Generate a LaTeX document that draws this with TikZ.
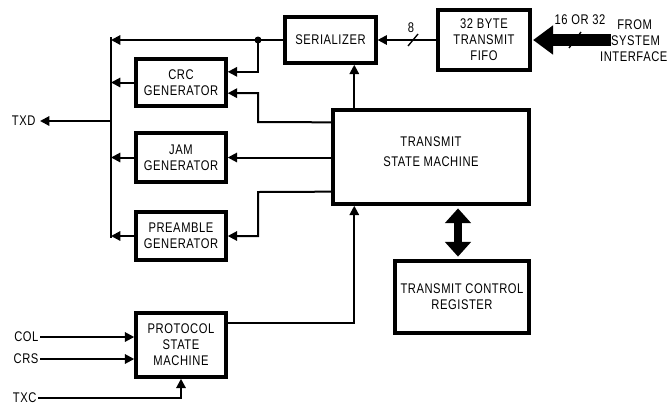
\documentclass[tikz,border=0pt]{standalone}
\usepackage{fontspec}
\newfontfamily\dsfont{Liberation Sans}[FakeStretch=0.8, LetterSpace=4]
\usetikzlibrary{arrows.meta}

\begin{document}
\begin{tikzpicture}[
    x=0.75pt, y=-0.75pt,
    blk/.style={draw, line width=2.6pt, align=center, inner sep=0pt, font={\dsfont\fontsize{10.5}{12}\selectfont}},
    lbl/.style={inner sep=1pt, align=center, font={\dsfont\fontsize{10.5}{12}\selectfont}},
    wire/.style={line width=1.5pt},
    sig/.style={wire, -{Triangle[length=7pt, width=7pt]}},
    fat/.style={line width=9pt, -{Triangle[length=15pt, width=21pt]}},
    dbl/.style={line width=6pt, {Triangle[length=11pt, width=19pt]}-{Triangle[length=11pt, width=19pt]}}
  ]
  \useasboundingbox (0,0) rectangle (670,408);

  % Blocks
  \node[blk, minimum width=68pt, minimum height=34.5pt] (ser) at (330.5,40) {SERIALIZER};
  \node[blk, minimum width=69pt, minimum height=45pt] (fifo) at (484,40) {32 BYTE\\TRANSMIT\\FIFO};
  \node[blk, minimum width=67.5pt, minimum height=35pt] (crc) at (181,82.5) {CRC\\GENERATOR};
  \node[blk, minimum width=67.5pt, minimum height=36.5pt] (jam) at (181,157.5) {JAM\\GENERATOR};
  \node[blk, minimum width=67.5pt, minimum height=36pt] (pre) at (181,236) {PREAMBLE\\GENERATOR};
  \node[blk, minimum width=147pt, minimum height=70.5pt] (tsm) at (431,157) {};
  \node[lbl] (tsmt) at (431,152) {TRANSMIT\\[3pt]STATE MACHINE};
  \node[blk, minimum width=100.5pt, minimum height=54pt] (tcr) at (462,297) {TRANSMIT CONTROL\\REGISTER};
  \node[blk, minimum width=67.5pt, minimum height=48pt] (psm) at (181,345) {PROTOCOL\\STATE\\MACHINE};

  % Output bus
  \coordinate (bustop) at (111,37);
  \coordinate (busbot) at (111,238);
  \draw[wire] (bustop) -- (busbot);
  \coordinate (txd) at (40,121);
  \node[lbl, anchor=east] (txdl) at (37,121) {TXD};
  \draw[sig] (bustop |- txd) -- (txd);

  % Serializer and generators into the bus
  \coordinate (tap) at (258,40);
  \draw[sig] (ser.west) -- (bustop |- ser.west);
  \fill (tap) circle (3.5);
  \draw[sig] (tap) |- ([yshift=8pt]crc.east);
  \draw[sig] (crc.west) -- (bustop |- crc.west);
  \draw[sig] (jam.west) -- (bustop |- jam.west);
  \draw[sig] (pre.west) -- (bustop |- pre.west);

  % Transmit state machine to generators
  \coordinate (k1) at (258,122);
  \coordinate (k2) at (258,192);
  \coordinate (up) at ([xshift=17.25pt]tsm.north west);
  \draw[sig] ([yshift=26pt]tsm.west) -- (k1) |- ([yshift=-8pt]crc.east);
  \draw[sig] (tsm.west |- jam.east) -- (jam.east);
  \draw[sig] ([yshift=-26pt]tsm.west) -- (k2) |- (pre.east);
  \draw[sig] (up) -- (ser.south -| up);

  % FIFO to serializer
  \coordinate (m8) at (413,40);
  \draw[sig] (fifo.west) -- (ser.east);
  \draw[wire, line width=1pt] ([shift={(-5,6)}]m8) -- ++(10,-12);
  \node[lbl] (w8) at (411,28) {8};

  % System interface
  \coordinate (sysin) at (611,40);
  \coordinate (m32) at (575,40);
  \draw[line width=1pt] ([shift={(-6,8)}]m32) -- ++(12,-16);
  \draw[fat] (sysin) -- ([xshift=1pt]fifo.east);
  \node[lbl] (w32) at (580,20) {16 OR 32};
  \node[lbl, anchor=east, align=right] (sys) at (669,41) {FROM\phantom{XX}\\SYSTEM\phantom{X}\\INTERFACE};

  % Control register
  \coordinate (ctl) at (458,0);
  \draw[dbl] ([yshift=-2pt]tsm.south -| ctl) -- ([yshift=2pt]tcr.north -| ctl);

  % Protocol state machine
  \draw[sig] ([yshift=16.5pt]psm.east) -| ([xshift=17.25pt]tsm.south west);
  \coordinate (col) at (40,337);
  \coordinate (crs) at (40,359);
  \coordinate (txc) at (38,398);
  \node[lbl, anchor=east] (coll) at (col) {COL};
  \node[lbl, anchor=east] (crsl) at (crs) {CRS};
  \node[lbl, anchor=east] (txcl) at (txc) {TXC};
  \draw[sig] (col) -- (psm.west |- col);
  \draw[sig] (crs) -- (psm.west |- crs);
  \draw[sig] (txc) -| (psm.south);

\end{tikzpicture}
\end{document}
